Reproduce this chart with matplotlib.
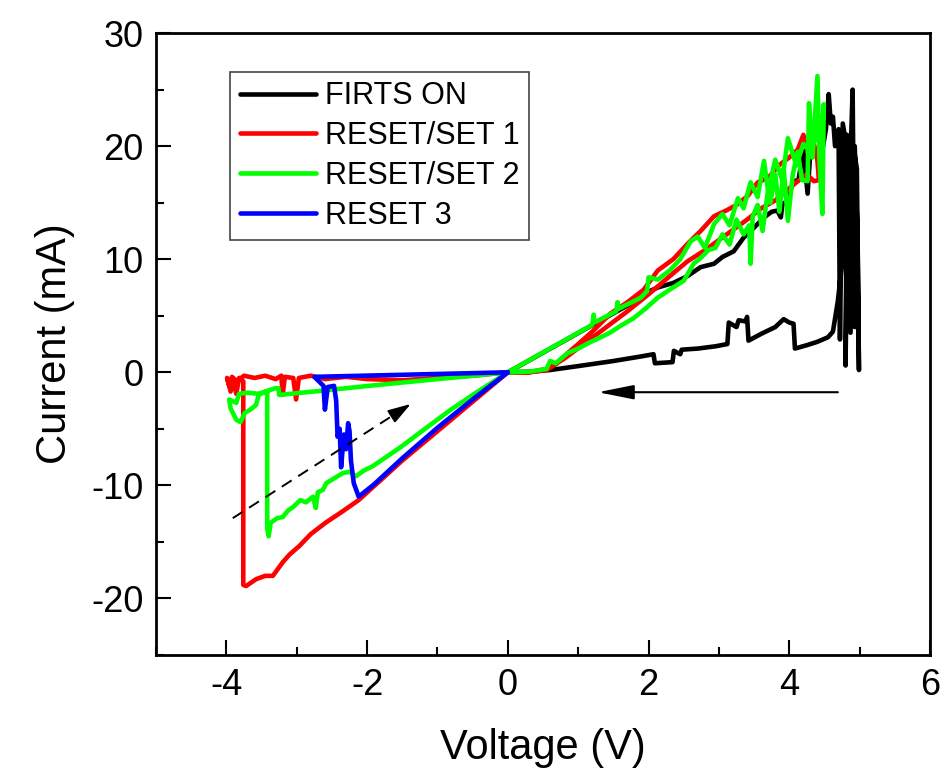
import matplotlib.pyplot as plt
from matplotlib.ticker import MultipleLocator

plt.rcParams['font.family'] = ['Liberation Sans', 'DejaVu Sans']
plt.rcParams['axes.unicode_minus'] = False

# FIRTS ON: low-resistance forward branch, breakdown near 5 V, return branch
black_v = [0.00, 0.30, 0.60, 1.00, 1.50, 1.89, 2.07, 2.09, 2.34, 2.36, 2.45, 2.47, 2.70, 2.95,
           3.12, 3.14, 3.25, 3.28, 3.38, 3.40, 3.42, 3.60, 3.80, 3.92, 4.00, 4.06, 4.08, 4.25,
           4.40, 4.55, 4.62, 4.69, 4.73, 4.76, 4.80, 4.83, 4.80, 4.82, 4.86, 4.90, 4.93, 4.91,
           4.96, 4.99, 4.97, 4.93, 4.87, 4.84, 4.76, 4.72, 4.70, 4.65, 4.62, 4.59, 4.56, 4.52,
           4.48, 4.40, 4.30, 4.26, 4.20, 4.13, 4.06, 3.97, 3.90, 3.88, 3.83, 3.75, 3.64, 3.50,
           3.35, 3.21, 3.05, 2.93, 2.74, 2.55, 2.35, 2.13, 1.95, 1.87, 0.00]
black_i = [0.00, 0.05, 0.20, 0.55, 1.00, 1.40, 1.60, 0.80, 0.90, 1.90, 1.60, 2.00, 2.10, 2.30,
           2.50, 4.40, 4.00, 4.60, 4.50, 4.90, 2.80, 3.40, 4.00, 4.70, 4.40, 4.30, 2.10, 2.40,
           2.70, 3.10, 3.60, 6.30, 8.50, 10.5, 16.0, 20.5, 0.60, 21.0, 17.0, 25.0, 4.00, 20.0,
           18.0, 0.20, 12.0, 20.0, 3.50, 19.0, 22.0, 2.90, 21.5, 20.0, 22.6, 22.0, 24.6, 21.5,
           20.0, 19.0, 19.6, 15.8, 19.6, 17.0, 16.9, 15.2, 14.8, 13.7, 14.3, 14.2, 13.7, 12.8,
           11.9, 10.7, 10.2, 9.60, 9.30, 8.50, 7.90, 7.50, 7.00, 6.50, 0.00]

# RESET/SET 1
red_v = [0.00, -0.50, -1.00, -1.50, -2.12, -2.35, -2.59, -2.80, -2.97, -3.10, -3.20, -3.34,
         -3.45, -3.58, -3.65, -3.72, -3.76, -3.76, -3.82, -3.86, -3.90, -3.94, -3.99, -3.96,
         -3.92, -3.85, -3.75, -3.60, -3.45, -3.30, -3.22, -3.20, -3.17, -3.05, -3.01, -2.97,
         -2.80, -2.60, -2.30, -2.00, -1.50, -1.00, -0.50, 0.00,
         0.30, 0.55, 0.70, 0.85, 1.00, 1.20, 1.46, 1.70, 1.93, 2.13, 2.35, 2.56, 2.74, 2.93,
         3.10, 3.25, 3.41, 3.55, 3.70, 3.85, 4.00, 4.12, 4.20, 4.28, 4.35, 4.40, 4.42, 4.35,
         4.25, 4.10, 3.95, 3.80, 3.60, 3.40, 3.20, 3.00, 2.80, 2.55, 2.30, 2.00, 1.70, 1.40,
         1.10, 0.80, 0.55, 0.30, 0.00]
red_i = [0.00, -2.60, -5.20, -7.80, -11.3, -12.3, -13.3, -14.3, -15.4, -16.1, -16.8, -18.0,
         -18.0, -18.3, -18.6, -18.9, -18.8, -0.80, -0.50, -1.90, -0.70, -1.70, -0.50, -1.20,
         -0.40, -0.80, -0.30, -0.50, -0.30, -0.60, -0.30, -2.00, -0.40, -0.50, -2.40, -0.50,
         -0.30, -0.60, -0.40, -0.60, -0.70, -0.50, -0.30, 0.00,
         0.00, 0.20, 0.80, 1.70, 2.50, 3.60, 5.20, 6.20, 7.30, 9.00, 10.0, 11.4, 12.5, 13.8,
         14.3, 14.8, 15.6, 16.8, 17.2, 18.3, 19.0, 19.7, 21.0, 19.0, 20.2, 18.7, 17.0, 16.9,
         17.5, 16.8, 16.0, 15.2, 14.5, 13.5, 12.6, 11.7, 10.8, 9.80, 8.50, 6.90, 5.40, 4.00,
         2.60, 1.20, 0.30, 0.00, 0.00]

# RESET/SET 2
green_v = [0.00, -0.50, -0.81, -1.20, -1.52, -1.92, -2.05, -2.16, -2.25, -2.34, -2.45, -2.58,
           -2.63, -2.70, -2.73, -2.77, -2.87, -2.95, -3.05, -3.12, -3.20, -3.28, -3.37, -3.40,
           -3.42, -3.42, -3.55, -3.70, -3.82, -3.86, -3.96, -3.94, -3.86, -3.80, -3.74, -3.66,
           -3.58, -3.54, -3.45, -3.30, -3.26, -3.25, -2.60, -1.90, -1.00, 0.00,
           0.30, 0.55, 0.60, 0.68, 0.85, 1.00, 1.15, 1.32, 1.45, 1.60, 1.79, 1.95, 2.13, 2.30,
           2.50, 2.64, 2.74, 2.85, 2.95, 3.05, 3.15, 3.25, 3.35, 3.43, 3.45, 3.48, 3.55, 3.62,
           3.70, 3.73, 3.80, 3.86, 3.92, 3.98, 4.05, 4.12, 4.18, 4.26, 4.28, 4.33, 4.40, 4.43,
           4.47, 4.49, 4.45, 4.38, 4.30, 4.20, 4.10, 3.98, 3.90, 3.80, 3.70, 3.64, 3.55, 3.45,
           3.35, 3.27, 3.15, 3.05, 2.93, 2.80, 2.70, 2.60, 2.45, 2.30, 2.13, 2.00, 1.98, 1.89,
           1.57, 1.56, 1.54, 1.23, 1.22, 1.20, 0.60, 0.00]
green_i = [0.00, -2.00, -3.30, -5.10, -6.60, -8.30, -8.70, -9.20, -8.80, -8.90, -9.30, -9.80,
           -10.4, -10.6, -12.0, -11.0, -11.5, -11.3, -11.9, -12.2, -12.8, -12.9, -13.3, -14.5,
           -13.8, -1.70, -1.90, -1.80, -1.90, -2.70, -2.40, -3.20, -4.20, -4.40, -3.60, -3.30,
           -2.90, -2.00, -1.70, -1.40, -1.40, -2.00, -1.60, -1.15, -0.60, 0.00,
           0.05, 0.30, 1.00, 0.80, 1.70, 2.10, 2.60, 3.10, 3.50, 4.10, 4.80, 5.60, 6.60, 7.30,
           8.10, 9.60, 10.1, 10.8, 11.0, 12.2, 11.3, 13.5, 12.2, 13.0, 9.60, 13.8, 14.8, 12.5,
           16.2, 15.0, 17.5, 14.2, 18.0, 13.4, 17.5, 19.5, 17.0, 16.9, 23.8, 19.0, 26.2, 18.5,
           14.0, 23.7, 20.0, 21.0, 19.5, 20.2, 18.3, 20.7, 17.0, 18.8, 16.0, 18.7, 15.5, 16.8,
           14.5, 15.4, 13.0, 14.0, 13.1, 11.0, 12.0, 11.6, 10.0, 9.00, 8.20, 8.40, 7.20, 6.60,
           5.60, 6.20, 5.40, 4.40, 5.10, 4.20, 2.10, 0.00]

# RESET 3
blue_v = [0.00, -0.50, -1.00, -1.50, -1.90, -2.12, -2.19, -2.23, -2.25, -2.27, -2.30, -2.33,
          -2.37, -2.39, -2.42, -2.44, -2.47, -2.56, -2.60, -2.62, -2.75, -1.50, 0.00]
blue_i = [0.00, -2.40, -4.90, -7.60, -9.90, -11.0, -9.80, -7.80, -5.20, -4.50, -6.80, -5.50,
          -8.40, -5.00, -5.70, -2.50, -1.20, -1.30, -3.30, -1.20, -0.40, -0.22, 0.00]

series = [(black_v, black_i, 'black', 'FIRTS ON'),
          (red_v, red_i, '#ff0000', 'RESET/SET 1'),
          (green_v, green_i, '#00ff00', 'RESET/SET 2'),
          (blue_v, blue_i, '#0000ff', 'RESET 3')]

# sweep direction arrows (start, end) in data units
solid_arrow = [(4.69, -1.76), (1.28, -1.76)]
dashed_arrow = [(-3.91, -12.9), (-1.38, -2.8)]

fig = plt.figure(figsize=(9.44, 7.76), dpi=100)
ax = fig.add_axes([0.1653, 0.1559, 0.8199, 0.8015])

for v, i, c, lab in series:
    ax.plot(v, i, color=c, lw=3.3, label=lab, solid_joinstyle='round', solid_capstyle='round')

ax.annotate('', xy=solid_arrow[1], xytext=solid_arrow[0],
            arrowprops=dict(arrowstyle='-|>,head_length=1.1,head_width=0.22', color='black',
                            lw=1.5, shrinkA=0, shrinkB=0, mutation_scale=20))

(x0, y0), (x1, y1) = dashed_arrow
xm = x0 + 0.9 * (x1 - x0)
ym = y0 + 0.9 * (y1 - y0)
ax.plot([x0, xm], [y0, ym], color='black', lw=1.4, ls=(0, (6, 4)))
ax.annotate('', xy=(x1, y1), xytext=(xm, ym),
            arrowprops=dict(arrowstyle='-|>,head_length=0.7,head_width=0.22', color='black',
                            lw=1.4, shrinkA=0, shrinkB=0, mutation_scale=20))

ax.set_xlim(-5, 6)
ax.set_ylim(-25, 30)
ax.xaxis.set_major_locator(MultipleLocator(2))
ax.xaxis.set_minor_locator(MultipleLocator(1))
ax.yaxis.set_major_locator(MultipleLocator(10))
ax.yaxis.set_minor_locator(MultipleLocator(5))
ax.tick_params(which='both', direction='in', top=False, right=False, width=1.5)
ax.tick_params(which='major', length=11, labelsize=26, pad=9)
ax.tick_params(which='minor', length=5.5)
for s in ax.spines.values():
    s.set_linewidth(2)

ax.set_xlabel('Voltage (V)', fontsize=30, labelpad=18)
ax.set_ylabel('Current (mA)', fontsize=30, labelpad=12)

leg = ax.legend(loc='upper left', bbox_to_anchor=(0.096, 0.937), borderaxespad=0,
                fontsize=22, handlelength=2.5, handletextpad=0.3, labelspacing=0.32,
                borderpad=0.3, fancybox=False, framealpha=1, edgecolor='#444444')
leg.get_frame().set_linewidth(1.2)
for line in leg.get_lines():
    line.set_linewidth(3.3)

fig.savefig('out.png', dpi=100)
